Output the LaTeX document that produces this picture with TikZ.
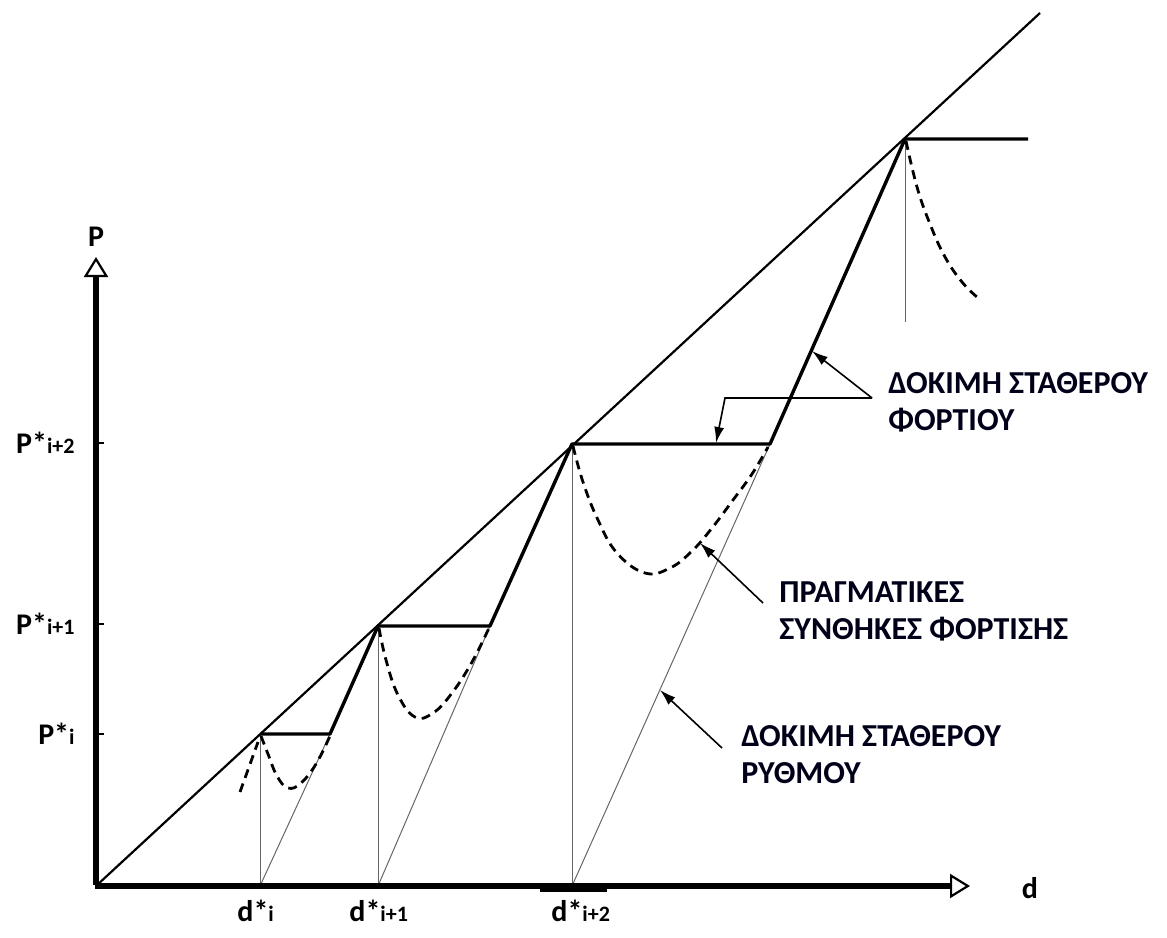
\documentclass[tikz,border=0pt]{standalone}
\usepackage{fontspec}
\setmainfont{Carlito}
\usetikzlibrary{arrows.meta}
\tikzset{
  axisline/.style={line width=2.6pt, -{Triangle[open,length=10pt,width=12pt,line width=1.1pt]}},
  diag/.style={line width=1.1pt},
  thick path/.style={line width=1.7pt},
  thinline/.style={line width=0.5pt, black!60},
  dashcurve/.style={line width=1.4pt, dash pattern=on 4.5pt off 3pt},
  leader/.style={line width=0.8pt, -{Latex[length=8pt,width=5pt]}},
  greek/.style={font=\bfseries\fontsize{16}{18.5}\selectfont, align=left, text=black!90!blue, inner sep=0pt},
  axlab/.style={font=\bfseries\fontsize{15}{15}\selectfont, inner sep=0pt}
}
\newcommand{\sublab}[1]{{\fontsize{11}{11}\selectfont #1}}
\begin{document}
\begin{tikzpicture}[x=0.5pt,y=-0.5pt]
\useasboundingbox (0,0) rectangle (1167,937);
% key points
\coordinate (O) at (96,886);
\coordinate (T) at (1040,13);
\coordinate (Ytip) at (96,257);
\coordinate (Xtip) at (970,886);
\coordinate (pA) at (260,734);
\coordinate (pB) at (378,626);
\coordinate (pC) at (572,444);
\coordinate (pD) at (905,139);
\coordinate (eA) at (330,734);
\coordinate (eB) at (490,626);
\coordinate (eC) at (770,444);
\coordinate (eD) at (1028,139);
\coordinate (dA) at (260,886);
\coordinate (dB) at (378,886);
\coordinate (dC) at (572,886);
\coordinate (vD) at (905,322);
% thin lines
\draw[thinline] (pA) -- (dA);
\draw[thinline] (pB) -- (dB);
\draw[thinline] (pC) -- (dC);
\draw[thinline] (pD) -- (vD);
\draw[thinline] (dA) -- (eA);
\draw[thinline] (dB) -- (eB);
\draw[thinline] (dC) -- (eC);
% axes
\draw[axisline] ([yshift=0.65pt]O) -- (Ytip);
\draw[axisline] ([xshift=-0.65pt]O) -- (Xtip);
\draw[line width=1.5pt] (540,890) -- (607,890);
% ticks
\draw[line width=1pt] (96,734) -- (104,734);
\draw[line width=1pt] (96,624) -- (104,624);
\draw[line width=1pt] (96,443) -- (104,443);
% main diagonal
\draw[diag] (O) -- (T);
% staircase
\draw[thick path, line join=round] (pA) -- (eA) -- (pB) -- (eB) -- (pC) -- (eC) -- (pD) -- (eD);
% dashed curves
\draw[dashcurve] (240,792) -- (258,742);
\draw[dashcurve] plot[smooth, tension=0.7] coordinates {(261,736) (268,754) (277,776) (288,788) (301,783) (316,764) (330,736)};
\draw[dashcurve] plot[smooth, tension=0.7] coordinates {(379,628) (386,660) (398,695) (415,717) (433,713) (452,693) (472,662) (489,628)};
\draw[dashcurve] plot[smooth, tension=0.7] coordinates {(573,446) (583,482) (598,520) (617,553) (645,573) (670,568) (692,551) (712,528) (733,500) (752,474) (768,447)};
\draw[dashcurve] plot[smooth, tension=0.7] coordinates {(906,141) (917,187) (930,224) (945,257) (962,282) (977,297)};
% axis labels
\node[axlab] (Plab) at (96,237) {P};
\node[axlab] (dlab) at (1030,888) {d};
\node[axlab, anchor=east] (P1) at (75,734) {P*\sublab{i}};
\node[axlab, anchor=east] (P2) at (75,624) {P*\sublab{i+1}};
\node[axlab, anchor=east] (P3) at (75,443) {P*\sublab{i+2}};
\node[axlab, anchor=west] (d1) at (237,911) {d*\sublab{i}};
\node[axlab, anchor=west] (d2) at (349,911) {d*\sublab{i+1}};
\node[axlab, anchor=west] (d3) at (551,911) {d*\sublab{i+2}};
% annotations
\node[greek, anchor=west] (lab1) at (888,402) {ΔΟΚΙΜΗ ΣΤΑΘΕΡΟΥ\\ΦΟΡΤΙΟΥ};
\node[greek, anchor=west] (lab2) at (779,611) {ΠΡΑΓΜΑΤΙΚΕΣ\\ΣΥΝΘΗΚΕΣ ΦΟΡΤΙΣΗΣ};
\node[greek, anchor=west] (lab3) at (741,755) {ΔΟΚΙΜΗ ΣΤΑΘΕΡΟΥ\\ΡΥΘΜΟΥ};
\coordinate (k1) at (872,398);
\coordinate (k1b) at (725,398);
\coordinate (t1a) at (812,351);
\coordinate (t1b) at (716,443);
\coordinate (k2) at (763,603);
\coordinate (t2) at (700,543);
\coordinate (k3) at (722,748);
\coordinate (t3) at (660,690);
\draw[leader] (k1) -- (t1a);
\draw[leader] (k1) -- (k1b) -- (t1b);
\draw[leader] (k2) -- (t2);
\draw[leader] (k3) -- (t3);
\end{tikzpicture}
\end{document}
